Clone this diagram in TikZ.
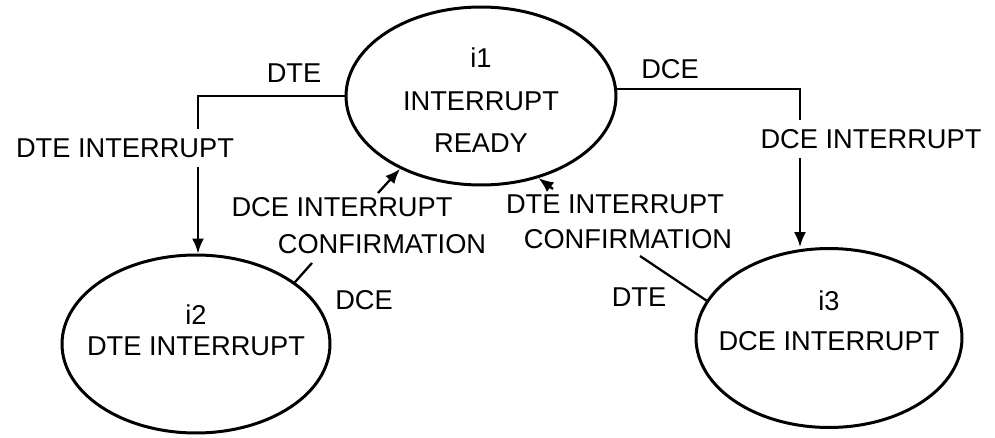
\documentclass[tikz,border=0pt]{standalone}
\usepackage{fontspec}
\setmainfont{Liberation Sans}
\usetikzlibrary{shapes.geometric,arrows.meta}
\newcommand\statetext[2]{\makebox[0pt]{\smash{\raisebox{#1}{\begin{tabular}{@{}c@{}}#2\end{tabular}}}}}
\begin{document}
\begin{tikzpicture}[x=0.02cm,y=0.02cm,>={Latex[length=0.3cm,width=0.24cm]},
    state/.style={draw,ellipse,line width=1.7pt,inner sep=0pt,font=\fontsize{15.5}{24}\selectfont},
    lbl/.style={inner sep=0.18cm,font=\fontsize{15.5}{24}\selectfont},
    wire/.style={line width=1.3pt}]
          \useasboundingbox (0,0) rectangle (995,437);

          \draw (481,341) node[state,minimum width=5.4cm,minimum height=3.56cm] (i1) {\statetext{-0.24cm}{i1\\INTERRUPT\\READY}};
          \draw (196,93) node[state,minimum width=5.36cm,minimum height=3.56cm] (i2) {\statetext{0.13cm}{i2\\[-6.4pt]DTE INTERRUPT}};
          \draw (829,99) node[state,minimum width=5.32cm,minimum height=3.58cm] (i3) {\statetext{0.2cm}{i3\\[-1.3pt]DCE INTERRUPT}};

          \draw (294,364) node[lbl] (dtetop) {DTE};
          \draw (670,368) node[lbl] (dcetop) {DCE};
          \draw (125,289) node[lbl] (dteint) {DTE INTERRUPT};
          \draw (871,298) node[lbl] (dceint) {DCE INTERRUPT};
          \draw (342,230) node[lbl] (dceconfa) {DCE INTERRUPT};
          \draw (382,193) node[lbl] (dceconfb) {CONFIRMATION};
          \draw (615,233) node[lbl] (dteconfa) {DTE INTERRUPT};
          \draw (628,198) node[lbl] (dteconfb) {CONFIRMATION};
          \draw (364,137) node[lbl] (dcelow) {DCE};
          \draw (639,140) node[lbl] (dtelow) {DTE};

          \coordinate (dtex) at (198,341);
          \coordinate (dcex) at (800,348);
          \coordinate (dcetail) at (378,244);
          \coordinate (dtetail) at (553,248);
          \coordinate (dcetick) at (312,174);
          \coordinate (dtetick) at (640,181);

          \draw[wire] (i1.west) -| (dtex |- dteint.north);
          \draw[wire,->] (dtex |- dteint.south) -- (dtex |- i2.north);
          \draw[wire] (i1.3) -| (dcex |- dceint.north);
          \draw[wire,->] (dcex |- dceint.south) -- (dcex |- i3.north);
          \draw[wire,->] (dcetail) -- (i1.222);
          \draw[wire,->] (dtetail) -- (i1.305);
          \draw[wire] (i2.32) -- (dcetick);
          \draw[wire] (dtetick) -- (i3.163);
\end{tikzpicture}
\end{document}
